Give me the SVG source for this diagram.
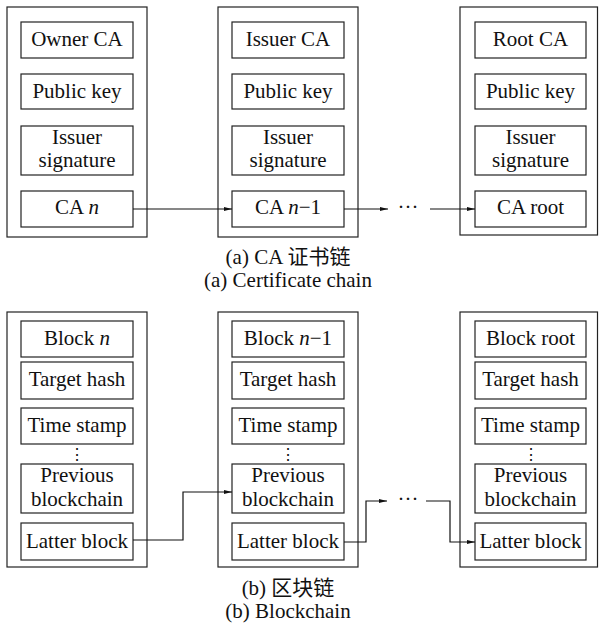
<svg xmlns="http://www.w3.org/2000/svg" width="599" height="623" viewBox="0 0 599 623">
<style>
  .outer { fill: #fff; stroke: #222; stroke-width: 1.2; }
  .inner { fill: #fff; stroke: #222; stroke-width: 1.2; }
  text { font-family: 'Liberation Serif', Tinos, 'DejaVu Serif', serif; font-size: 21px; fill: #111; text-anchor: middle; }
  text.cn { font-family: 'Liberation Serif', 'Noto Sans CJK SC', serif; }
  text.vdots { font-family: 'DejaVu Serif', serif; font-size: 16px; }
  .conn { fill: none; stroke: #111; stroke-width: 1.2; }
  .i { font-style: italic; }
</style>
<defs>
  <marker id="arr" markerWidth="8" markerHeight="4" refX="8" refY="2" orient="auto" markerUnits="userSpaceOnUse">
    <path d="M0,0 L8,2 L0,4 z" fill="#111"/>
  </marker>
</defs>
<rect width="599" height="623" fill="#fff"/>

<!-- (a) Certificate chain -->
<g id="owner-ca">
  <rect class="outer" x="7" y="7" width="140" height="230"/>
  <rect class="inner" x="21" y="22" width="112" height="36"/>
  <text x="77" y="46">Owner CA</text>
  <rect class="inner" x="21" y="74" width="112" height="35"/>
  <text x="77" y="98">Public key</text>
  <rect class="inner" x="21" y="126" width="112" height="49"/>
  <text x="77" y="144">Issuer</text>
  <text x="77" y="167">signature</text>
  <rect class="inner" x="21" y="191" width="112" height="36"/>
  <text x="77" y="214">CA <tspan class="i">n</tspan></text>
</g>
<g id="issuer-ca">
  <rect class="outer" x="218" y="7" width="140" height="230"/>
  <rect class="inner" x="232" y="22" width="112" height="36"/>
  <text x="288" y="46">Issuer CA</text>
  <rect class="inner" x="232" y="74" width="112" height="35"/>
  <text x="288" y="98">Public key</text>
  <rect class="inner" x="232" y="126" width="112" height="49"/>
  <text x="288" y="144">Issuer</text>
  <text x="288" y="167">signature</text>
  <rect class="inner" x="232" y="191" width="112" height="36"/>
  <text x="288" y="214">CA <tspan class="i">n</tspan>−1</text>
</g>
<g id="root-ca">
  <rect class="outer" x="460" y="7" width="137.5" height="228"/>
  <rect class="inner" x="475" y="22" width="111" height="36"/>
  <text x="530.5" y="46">Root CA</text>
  <rect class="inner" x="475" y="74" width="111" height="35"/>
  <text x="530.5" y="98">Public key</text>
  <rect class="inner" x="475" y="126" width="111" height="49"/>
  <text x="530.5" y="144">Issuer</text>
  <text x="530.5" y="167">signature</text>
  <rect class="inner" x="475" y="191" width="111" height="36"/>
  <text x="530.5" y="214">CA root</text>
</g>

<!-- (b) Blockchain -->
<g id="block-n">
  <rect class="outer" x="7" y="312" width="140" height="255"/>
  <rect class="inner" x="21" y="321" width="112" height="36"/>
  <text x="77" y="345">Block <tspan class="i">n</tspan></text>
  <rect class="inner" x="21" y="362" width="112" height="37"/>
  <text x="77" y="386">Target hash</text>
  <rect class="inner" x="21" y="408" width="112" height="36"/>
  <text x="77" y="432">Time stamp</text>
  <text class="vdots" x="77" y="460">⋮</text>
  <rect class="inner" x="21" y="464" width="112" height="49"/>
  <text x="77" y="482">Previous</text>
  <text x="77" y="506">blockchain</text>
  <rect class="inner" x="21" y="523" width="112" height="37"/>
  <text x="77" y="548">Latter block</text>
</g>
<g id="block-n-1">
  <rect class="outer" x="218" y="312" width="140" height="255"/>
  <rect class="inner" x="232" y="321" width="112" height="36"/>
  <text x="288" y="345">Block <tspan class="i">n</tspan>−1</text>
  <rect class="inner" x="232" y="362" width="112" height="37"/>
  <text x="288" y="386">Target hash</text>
  <rect class="inner" x="232" y="408" width="112" height="36"/>
  <text x="288" y="432">Time stamp</text>
  <text class="vdots" x="288" y="460">⋮</text>
  <rect class="inner" x="232" y="464" width="112" height="49"/>
  <text x="288" y="482">Previous</text>
  <text x="288" y="506">blockchain</text>
  <rect class="inner" x="232" y="523" width="112" height="37"/>
  <text x="288" y="548">Latter block</text>
</g>
<g id="block-root">
  <rect class="outer" x="460" y="312" width="137.5" height="255"/>
  <rect class="inner" x="475" y="321" width="111" height="36"/>
  <text x="530.5" y="345">Block root</text>
  <rect class="inner" x="475" y="362" width="111" height="37"/>
  <text x="530.5" y="386">Target hash</text>
  <rect class="inner" x="475" y="408" width="111" height="36"/>
  <text x="530.5" y="432">Time stamp</text>
  <text class="vdots" x="530.5" y="460">⋮</text>
  <rect class="inner" x="475" y="464" width="111" height="49"/>
  <text x="530.5" y="482">Previous</text>
  <text x="530.5" y="506">blockchain</text>
  <rect class="inner" x="475" y="523" width="111" height="37"/>
  <text x="530.5" y="548">Latter block</text>
</g>

<g id="connectors">
  <path class="conn" d="M133,209 H232" marker-end="url(#arr)"/>
  <path class="conn" d="M344,209 H388" marker-end="url(#arr)"/>
  <text x="408" y="214">···</text>
  <path class="conn" d="M430,209 H475" marker-end="url(#arr)"/>

  <path class="conn" d="M133,540 H183 V492 H232" marker-end="url(#arr)"/>
  <path class="conn" d="M344,542 H366 V501 H387" marker-end="url(#arr)"/>
  <text x="408" y="506">···</text>
  <path class="conn" d="M426,501 H450 V542 H475" marker-end="url(#arr)"/>
</g>

<g id="captions">
  <text class="cn" x="288" y="264">(a) CA 证书链</text>
  <text x="288" y="287">(a) Certificate chain</text>
  <text class="cn" x="288" y="595">(b) 区块链</text>
  <text x="288" y="618">(b) Blockchain</text>
</g>
</svg>
